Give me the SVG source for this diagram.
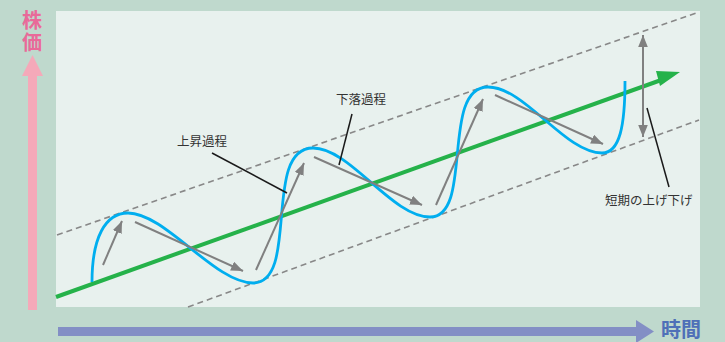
<svg xmlns="http://www.w3.org/2000/svg" width="725" height="342" viewBox="0 0 725 342">
<defs>
<style>
.lbl{font-family:"Noto Sans CJK JP","Noto Sans",sans-serif;font-size:12.5px;fill:#333}
.axis{font-family:"Noto Sans CJK JP","Noto Sans",sans-serif;font-size:20px;font-weight:bold}
.dash{stroke:#888;stroke-width:1.6;stroke-dasharray:6 4;fill:none}
.ga{stroke:#808080;stroke-width:2;fill:none;marker-end:url(#gh)}
.lead{stroke:#1a1a1a;stroke-width:1.5;fill:none}
</style>
<marker id="gh" viewBox="0 0 10 8" refX="10" refY="4" markerWidth="6" markerHeight="4.8" markerUnits="strokeWidth" orient="auto">
<path d="M0,0 L10,4 L0,8 z" fill="#808080"/>
</marker>
<marker id="gs" viewBox="0 0 10 8" refX="10" refY="4" markerWidth="6" markerHeight="4.8" markerUnits="strokeWidth" orient="auto-start-reverse">
<path d="M0,0 L10,4 L0,8 z" fill="#808080"/>
</marker>
</defs>
<rect x="0" y="0" width="725" height="342" fill="#bfd9cd"/>
<rect id="panel" x="56" y="11" width="644" height="296" fill="#e8f1ee"/>

<g id="axis-price">
<rect x="28" y="74" width="9" height="236" fill="#f5a9b9"/>
<path d="M22,76 L32.5,55 L43,76 z" fill="#f5a9b9"/>
<text class="axis" x="32" y="10" writing-mode="vertical-rl" style="writing-mode:vertical-rl" letter-spacing="2" fill="#e96a99">株価</text>
</g>
<g id="axis-time">
<rect x="58" y="327" width="580" height="9" fill="#838fc5"/>
<path d="M636,320 L654,331.5 L636,343 z" fill="#838fc5"/>
<text class="axis" x="681" y="337" text-anchor="middle" fill="#4f70b8">時間</text>
</g>

<g id="channel">
<line class="dash" x1="57" y1="235" x2="699" y2="12"/>
<line class="dash" x1="188" y1="307" x2="699" y2="120"/>
</g>

<g id="trend">
<line x1="56" y1="297" x2="664" y2="79" stroke="#25b24a" stroke-width="4"/>
<path d="M680,72 L660,86 L656,71 z" fill="#25b24a"/>
</g>

<g id="price-wave">
<path d="M92,282 C92,238 105,213 128,213 C165,213 215,283 253,283 C300,283 262,148 313,148 C350,148 392,217 430,217 C474,217 440,87 488,87 C525,87 565,153 602,153 C620,153 625,125 625,81" fill="none" stroke="#00aeef" stroke-width="2.8"/>
</g>

<g id="connectors">
<line class="ga" x1="103" y1="265" x2="122" y2="221"/>
<line class="ga" x1="135" y1="222" x2="243" y2="271"/>
<line class="ga" x1="256" y1="270" x2="304" y2="163"/>
<line class="ga" x1="314" y1="157" x2="422" y2="205"/>
<line class="ga" x1="436" y1="205" x2="483" y2="99"/>
<line class="ga" x1="495" y1="95" x2="603" y2="144"/>
<line x1="643" y1="35" x2="643" y2="137" stroke="#808080" stroke-width="2" marker-start="url(#gs)" marker-end="url(#gs)"/>
<line class="lead" x1="212" y1="153" x2="287" y2="193"/>
<line class="lead" x1="352" y1="114" x2="339" y2="165"/>
<line class="lead" x1="647" y1="108" x2="669" y2="187"/>
</g>

<g id="label-rise"><text class="lbl" x="177" y="146">上昇過程</text></g>
<g id="label-fall"><text class="lbl" x="336" y="104">下落過程</text></g>
<g id="label-short"><text class="lbl" x="605" y="205">短期の上げ下げ</text></g>
</svg>
